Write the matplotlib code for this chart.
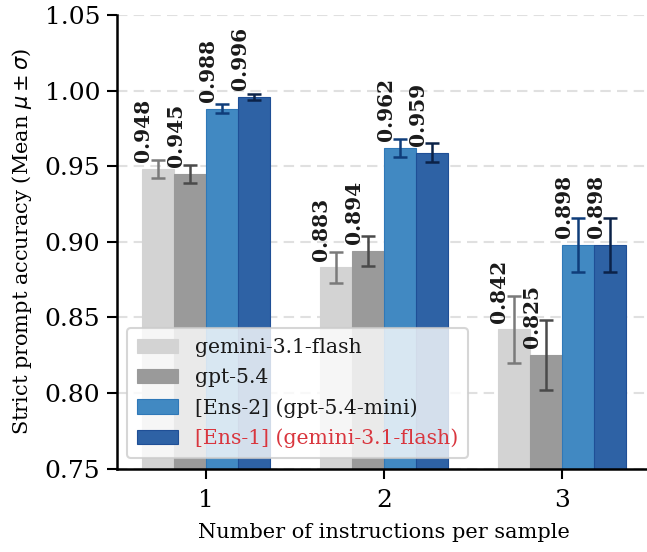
import matplotlib
matplotlib.use("Agg")
import matplotlib.pyplot as plt
import numpy as np

categories = ["1", "2", "3"]
series_names = ["gemini-3.1-flash", "gpt-5.4", "[Ens-2] (gpt-5.4-mini)", "[Ens-1] (gemini-3.1-flash)"]
means = [
    [0.948, 0.883, 0.842],
    [0.945, 0.894, 0.825],
    [0.988, 0.962, 0.898],
    [0.996, 0.959, 0.898],
]
stds = [
    [0.006, 0.0105, 0.022],
    [0.006, 0.010, 0.023],
    [0.003, 0.006, 0.018],
    [0.002, 0.006, 0.018],
]
value_labels = [
    ["0.948", "0.883", "0.842"],
    ["0.945", "0.894", "0.825"],
    ["0.988", "0.962", "0.898"],
    ["0.996", "0.959", "0.898"],
]
bar_colors = ["#d3d3d3", "#9a9a9a", "#4189c2", "#2e62a5"]
edge_colors = ["#d3d3d3", "#9a9a9a", "#2f78b8", "#1f4f96"]
err_colors = ["#7a7a7a", "#4a4a4a", "#0f3d7a", "#0b2248"]
legend_text_colors = ["#1a1a1a", "#1a1a1a", "#1a1a1a", "#d9363e"]

plt.rcParams["font.family"] = ["DejaVu Serif"]

fig = plt.figure(figsize=(6.47, 5.52), dpi=100)
ax = fig.add_axes([117 / 647, (552 - 468.5) / 552, (651 - 117) / 647, (468.5 - 15) / 552])

x = np.arange(1, len(categories) + 1)
w = 0.181
offsets = (np.arange(4) - 1.5) * w
handles = []
for i in range(4):
    xs = x + offsets[i]
    b = ax.bar(xs, means[i], width=w, color=bar_colors[i], edgecolor=edge_colors[i],
               linewidth=0.8, label=series_names[i], zorder=2)
    handles.append(b)
    ax.errorbar(xs, means[i], yerr=stds[i], fmt="none", ecolor=err_colors[i],
                elinewidth=1.8, capsize=5, capthick=1.8, zorder=3)
    for xx, m, lab in zip(xs, means[i], value_labels[i]):
        ax.text(xx - 0.08, m + 0.0045, lab, rotation=90, ha="center", va="bottom",
                fontsize=14.5, fontweight="bold", color="#1a1a1a", zorder=4)

ax.set_xlim(0.5, 3.5)
ax.set_ylim(0.75, 1.05)
ax.set_yticks([0.75, 0.80, 0.85, 0.90, 0.95, 1.00, 1.05])
ax.set_yticklabels(["0.75", "0.80", "0.85", "0.90", "0.95", "1.00", "1.05"])
ax.set_xticks(x)
ax.set_xticklabels(categories)
ax.tick_params(axis="both", labelsize=18, length=7, width=1.5, color="black")
ax.tick_params(axis="x", pad=8)
ax.tick_params(axis="y", pad=5)
ax.yaxis.grid(True, linestyle=(0, (5, 3)), color="#e0e0e0", linewidth=1.5, zorder=0)
ax.set_axisbelow(True)
for s in ["top", "right"]:
    ax.spines[s].set_visible(False)
for s in ["left", "bottom"]:
    ax.spines[s].set_linewidth(1.8)

ax.set_xlabel("Number of instructions per sample", fontsize=15, labelpad=8)
ax.set_ylabel(r"Strict prompt accuracy (Mean $\mu \pm \sigma$)", fontsize=15, labelpad=8)

leg = ax.legend(handles=handles, loc="lower left", bbox_to_anchor=(0.0, 0.0),
                fontsize=14.7, frameon=True, fancybox=True, framealpha=0.8,
                edgecolor="#cccccc", handlelength=2.0, handleheight=0.7,
                labelspacing=0.53, borderpad=0.5)
leg.get_frame().set_linewidth(1.5)
for t, c in zip(leg.get_texts(), legend_text_colors):
    t.set_color(c)

fig.savefig("out.png", dpi=100)
